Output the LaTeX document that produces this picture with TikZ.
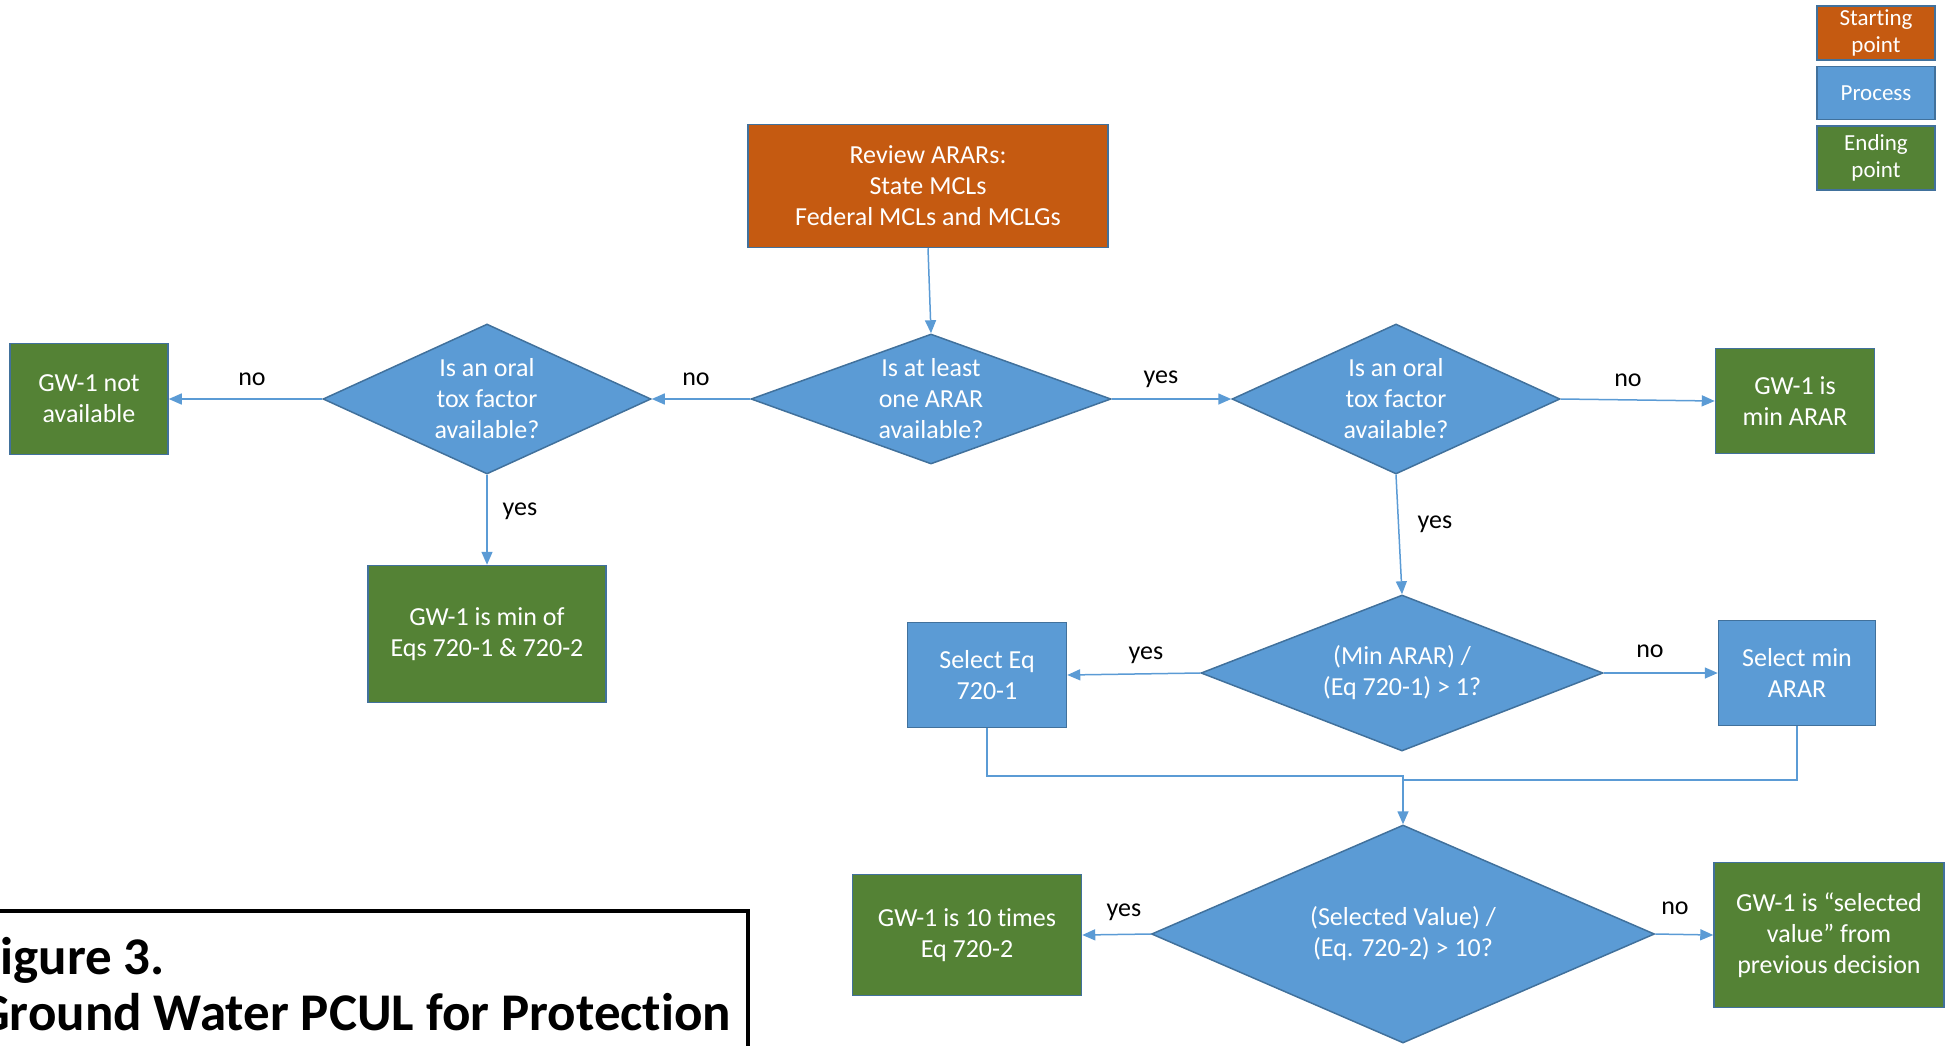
\documentclass[tikz,border=0pt]{standalone}
\usepackage{fontspec}
\setmainfont{Carlito}[Ligatures={TeX,NoCommon}]
\usetikzlibrary{shapes.geometric,arrows.meta}

\definecolor{startorange}{HTML}{C55A11}
\definecolor{procblue}{HTML}{5B9BD5}
\definecolor{endgreen}{HTML}{548235}
\definecolor{edgeblue}{HTML}{41719C}

\tikzset{
  box/.style={rectangle, draw=edgeblue, line width=1.5pt, text=white, align=center,
    inner sep=0pt, font=\fontsize{26}{31}\selectfont},
  startbox/.style={box, fill=startorange},
  procbox/.style={box, fill=procblue},
  endbox/.style={box, fill=endgreen},
  keybox/.style={box, minimum width=118pt, font=\fontsize{23}{27.5}\selectfont},
  decision/.style={diamond, draw=edgeblue, line width=1.5pt, fill=procblue, inner sep=0pt},
  qtext/.style={text=white, align=center, font=\fontsize{26}{31}\selectfont},
  flow/.style={draw=procblue, line width=1.5pt, -{Triangle[length=13pt,width=11pt]}},
  link/.style={draw=procblue, line width=1.5pt},
  tag/.style={font=\fontsize{26}{31}\selectfont},
}

\begin{document}
\begin{tikzpicture}[x=1pt,y=-1pt]

\useasboundingbox (0,0) rectangle (1956,1045);
\clip (0,0) rectangle (1956,1045);

% key
\node[keybox, fill=startorange, minimum height=54pt] (keystart) at (1876,33) {Starting\\point};
\node[keybox, fill=procblue, minimum height=53pt] (keyproc) at (1876,93) {Process};
\node[keybox, fill=endgreen, minimum height=64pt] (keyend) at (1876,158) {Ending\\point};

% boxes
\node[startbox, minimum width=360pt, minimum height=123pt] (review) at (928,186)
  {Review ARARs:\\State MCLs\\Federal MCLs and MCLGs};
\node[endbox, minimum width=158pt, minimum height=111pt] (notavail) at (89,399) {GW-1 not\\available};
\node[endbox, minimum width=159pt, minimum height=105pt] (minarar) at (1795,401) {GW-1 is\\min ARAR};
\node[endbox, minimum width=238pt, minimum height=137pt] (mineqs) at (487,634) {GW-1 is min of\\Eqs 720-1 \& 720-2};
\node[procbox, minimum width=159pt, minimum height=105pt] (seleq) at (987,675) {Select Eq\\720-1};
\node[procbox, minimum width=157pt, minimum height=105pt] (selmin) at (1797,673) {Select min\\ARAR};
\node[endbox, minimum width=229pt, minimum height=121pt] (tentimes) at (967,935) {GW-1 is 10 times\\Eq 720-2};
\node[endbox, minimum width=230pt, minimum height=145pt] (selval) at (1829,935)
  {GW-1 is “selected\\value” from\\previous decision};

% decisions
\node[decision, minimum width=360pt, minimum height=130pt,
  label={[qtext]center:Is at least\\one ARAR\\available?}] (anyarar) at (931,399) {};
\node[decision, minimum width=328pt, minimum height=150pt,
  label={[qtext]center:Is an oral\\tox factor\\available?}] (toxleft) at (487,399) {};
\node[decision, minimum width=328pt, minimum height=150pt,
  label={[qtext]center:Is an oral\\tox factor\\available?}] (toxright) at (1396,399) {};
\node[decision, minimum width=402pt, minimum height=156pt,
  label={[qtext]center:(Min ARAR) /\\(Eq 720-1) > 1?}] (ratioone) at (1402,673) {};
\node[decision, minimum width=503pt, minimum height=218pt,
  label={[qtext]center:(Selected Value) /\\(Eq. 720-2) > 10?}] (ratioten) at (1403,934) {};

% connectors
\draw[flow] (review.south) -- (anyarar.north);
\draw[flow] (anyarar.west) -- (toxleft.east);
\draw[flow] (toxleft.west) -- (notavail.east);
\draw[flow] (toxleft.south) -- (mineqs.north);
\draw[flow] (anyarar.east) -- (toxright.west);
\draw[flow] (toxright.east) -- (minarar.west);
\draw[flow] (toxright.south) -- (ratioone.north);
\draw[flow] (ratioone.west) -- (seleq.east);
\draw[flow] (ratioone.east) -- (selmin.west);

\coordinate (mergeleft) at (1403,776);
\coordinate (mergeright) at (1403,780);
\draw[link] (selmin.south) |- (mergeright);
\draw[flow] (seleq.south) |- (mergeleft) -- (ratioten.north);

\draw[flow] (ratioten.west) -- (tentimes.east);
\draw[flow] (ratioten.east) -- (selval.west);

% answers
\node[tag] (no1) at (252,379) {no};
\node[tag] (no2) at (696,379) {no};
\node[tag] (yes1) at (1161,379) {yes};
\node[tag] (no3) at (1628,380) {no};
\node[tag] (yes2) at (520,511) {yes};
\node[tag] (yes3) at (1435,524) {yes};
\node[tag] (yes4) at (1146,655) {yes};
\node[tag] (no4) at (1650,651) {no};
\node[tag] (yes5) at (1124,912) {yes};
\node[tag] (no5) at (1675,908) {no};

% caption
\draw[line width=4pt] (-20,911) rectangle (748,1100);
\node[anchor=base west, align=left, inner sep=0pt, font=\fontsize{53}{56}\selectfont\bfseries] (caption) at (-24,1030)
  {Figure 3.\\Ground Water PCUL for Protection};

\end{tikzpicture}
\end{document}
